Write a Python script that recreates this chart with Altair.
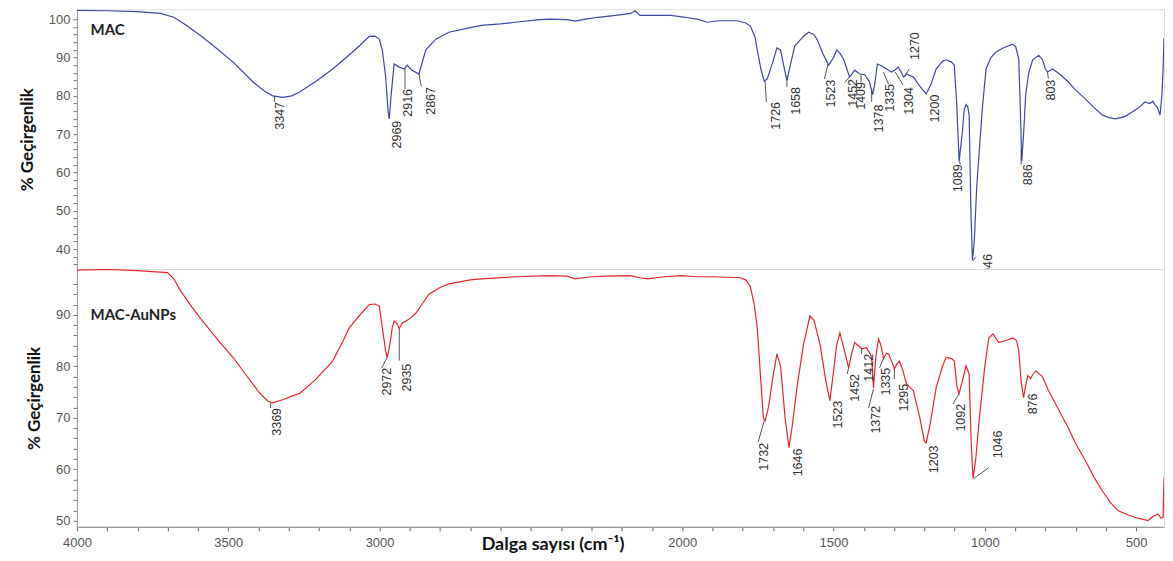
import altair as alt
import pandas as pd

# ---------------- MAC spectrum (top, blue) ----------------
mac_wn = [4000, 3900, 3800, 3724, 3680, 3640, 3593, 3540, 3484, 3418, 3380, 3353, 3320, 3290, 3264,
          3210, 3155, 3110, 3067, 3034, 3015, 3001, 2991, 2980, 2972, 2968, 2962, 2952, 2935, 2919,
          2909, 2893, 2870, 2860, 2847, 2814, 2771, 2700, 2663, 2600, 2551, 2480, 2442, 2380, 2354,
          2320, 2278, 2220, 2170, 2156, 2140, 2100, 2038, 1990, 1950, 1917, 1880, 1818, 1790, 1775,
          1760, 1752, 1740, 1729, 1719, 1700, 1687, 1675, 1665, 1654, 1640, 1628, 1600, 1582, 1565,
          1555, 1535, 1516, 1500, 1489, 1478, 1467, 1447, 1430, 1414, 1397, 1381, 1371, 1364, 1355,
          1345, 1335, 1309, 1296, 1286, 1275, 1269, 1259, 1236, 1215, 1194, 1178, 1161, 1140, 1128,
          1110, 1101, 1093, 1085, 1075, 1068, 1062, 1056, 1052, 1046, 1041, 1035, 1027, 1019, 1008,
          996, 980, 964, 940, 908, 898, 888, 884, 878, 872, 865, 855, 842, 822, 810, 800, 793, 776,
          750, 724, 700, 668, 640, 612, 590, 569, 540, 513, 490, 471, 455, 445, 438, 430, 421, 415,
          411, 408]
mac_t = [102.3, 102.2, 102.0, 101.5, 100.5, 98.5, 95.8, 92.5, 88.8, 83.6, 81.2, 80.0, 79.6, 80.0, 81.0,
         83.8, 87.0, 90.0, 93.0, 95.5, 95.6, 94.8, 92.0, 85.0, 76.0, 74.0, 80.0, 88.3, 87.5, 87.0,
         88.0, 86.7, 85.7, 88.5, 92.0, 94.8, 96.6, 97.8, 98.4, 98.8, 99.2, 99.8, 100.0, 99.9, 99.5,
         100.0, 100.5, 101.0, 101.5, 102.2, 101.0, 101.0, 101.0, 100.5, 100.0, 99.2, 99.6, 99.6, 99.0, 98.2,
         95.5, 92.0, 87.0, 83.8, 84.4, 89.0, 92.5, 92.0, 88.0, 84.0, 89.0, 93.0, 95.5, 96.6, 96.0,
         94.8, 91.0, 88.0, 90.0, 92.0, 91.0, 89.6, 84.9, 86.7, 85.7, 85.5, 83.6, 80.3, 82.9, 88.3,
         88.0, 87.5, 86.2, 86.8, 87.5, 86.0, 84.9, 85.7, 84.9, 82.5, 80.5, 83.0, 87.0, 89.0, 89.4,
         88.8, 88.0, 78.0, 62.9, 70.0, 76.5, 77.7, 77.0, 75.0, 50.0, 37.0, 42.0, 56.0, 65.0, 77.0,
         87.0, 90.0, 91.4, 92.5, 93.5, 92.8, 89.6, 80.0, 62.9, 70.0, 80.3, 86.0, 89.4, 90.6, 89.5, 87.0, 86.2, 87.0,
         85.5, 83.6, 81.5, 79.2, 77.0, 75.0, 74.3, 74.0, 74.5, 75.8, 77.0, 78.4, 78.0, 78.6, 77.7, 77.0, 75.0, 80.0,
         87.0, 95.0]

# ---------------- MAC-AuNPs spectrum (bottom, red) ----------------
au_wn = [4000, 3900, 3800, 3701, 3680, 3658, 3620, 3593, 3540, 3484, 3440, 3395, 3369, 3353, 3320,
         3290, 3264, 3210, 3155, 3120, 3100, 3060, 3034, 3015, 3001, 2991, 2980, 2975, 2968, 2958,
         2952, 2942, 2935, 2925, 2912, 2895, 2879, 2860, 2837, 2800, 2771, 2700, 2663, 2550, 2442,
         2380, 2354, 2300, 2250, 2170, 2140, 2114, 2060, 2005, 1950, 1900, 1808, 1790, 1775, 1762,
         1752, 1740, 1732, 1726, 1715, 1700, 1687, 1675, 1660, 1647, 1635, 1621, 1600, 1578, 1565,
         1545, 1525, 1512, 1500, 1490, 1479, 1468, 1450, 1440, 1430, 1418, 1407, 1391, 1380, 1374,
         1368, 1360, 1351, 1343, 1335, 1325, 1318, 1308, 1299, 1290, 1282, 1270, 1259, 1236, 1215,
         1200, 1194, 1180, 1161, 1140, 1128, 1110, 1101, 1092, 1085, 1075, 1062, 1052, 1045, 1039,
         1030, 1019, 1000, 987, 973, 954, 930, 908, 895, 888, 880, 872, 866, 858, 849, 840, 832,
         810, 789, 760, 724, 700, 668, 640, 612, 585, 559, 530, 503, 480, 461, 445, 428, 418, 411, 408]
au_t = [98.7, 98.8, 98.6, 98.2, 97.0, 94.7, 91.5, 89.4, 85.5, 81.7, 78.2, 74.7, 73.2, 72.9, 73.5,
        74.2, 74.7, 77.5, 81.0, 85.0, 87.5, 90.3, 92.0, 92.1, 91.7, 87.5, 83.0, 81.7, 83.5, 87.5,
        88.8, 88.3, 87.3, 88.4, 88.8, 89.5, 90.4, 92.0, 94.0, 95.3, 96.0, 96.8, 97.0, 97.4, 97.6,
        97.5, 97.0, 97.4, 97.5, 97.6, 97.2, 97.0, 97.4, 97.6, 97.4, 97.4, 97.2, 96.8, 95.5, 92.0,
        87.5, 77.0, 70.0, 69.4, 72.0, 78.0, 82.4, 80.0, 70.0, 64.2, 69.0, 75.8, 84.0, 89.8, 89.0,
        84.4, 77.0, 73.3, 79.0, 84.0, 86.5, 84.0, 79.7, 82.5, 84.6, 84.0, 83.4, 83.6, 82.5, 81.7,
        75.8, 82.0, 85.3, 84.0, 81.5, 82.5, 82.4, 81.0, 79.5, 80.5, 81.0, 79.0, 76.6, 75.2, 70.0,
        65.5, 65.1, 69.0, 75.8, 80.0, 81.7, 81.5, 81.0, 76.0, 74.7, 77.0, 80.1, 78.5, 65.0, 58.2,
        62.0, 69.4, 80.0, 85.5, 86.3, 84.6, 85.0, 85.5, 85.0, 83.0, 77.0, 73.9, 76.0, 78.2, 77.6, 78.5, 79.1,
        78.0, 75.2, 72.0, 68.0, 65.0, 61.7, 58.5, 55.8, 53.5, 51.9, 51.2, 50.6, 50.3, 50.0, 50.8, 51.3, 50.5, 50.6, 58.4]

# ---------------- peak annotations ----------------
mac_labels = ["3347", "2969", "2916", "2867", "1726", "1658", "1523", "1452", "1409", "1378",
              "1335", "1304", "1270", "1200", "1089", "1046", "886", "803"]
mac_peak_wn = [3347, 2968, 2916, 2870, 1726, 1654, 1518, 1447, 1409, 1374, 1335, 1296, 1266, 1194, 1085, 1039, 880, 793]
mac_peak_t = [80.0, 74.0, 87.2, 85.7, 83.8, 84.0, 88.3, 84.9, 85.4, 82.0, 86.2, 86.2, 84.9, 80.5, 62.9, 37.0, 66.0, 86.2]
mac_lead_wn = [3347, 2968, 2916, 2862, 1722, 1654, 1530, 1463, 1409, 1374, 1318, 1270, 1250, 1194, 1080, 1030, 880, 790]
mac_lead_t = [78.4, 74.0, 81.8, 82.5, 78.4, 82.3, 84.4, 83.5, 83.6, 78.4, 83.0, 82.8, 87.0, 80.5, 62.1, 38.0, 62.1, 84.5]
mac_lab_wn = [3330, 2942, 2905, 2830, 1690, 1624, 1509, 1434, 1409, 1351, 1312, 1251, 1230, 1164, 1090, 990, 858, 780]
mac_lab_t = [78.4, 73.5, 81.8, 82.3, 78.4, 82.3, 84.2, 84.4, 83.6, 77.7, 83.1, 82.3, 96.6, 80.3, 62.1, 38.7, 62.1, 84.2]

au_labels = ["3369", "2972", "2935", "1732", "1646", "1523", "1452", "1412", "1372", "1335",
             "1295", "1203", "1092", "1046", "876"]
au_peak_wn = [3360, 2975, 2935, 1729, 1647, 1512, 1450, 1407, 1368, 1335, 1299, 1194, 1085, 1036, 872]
au_peak_t = [72.9, 81.7, 87.3, 69.4, 64.2, 73.3, 79.7, 83.4, 75.6, 81.5, 79.5, 65.1, 74.7, 58.2, 73.9]
au_lead_wn = [3360, 2993, 2935, 1749, 1647, 1512, 1455, 1407, 1384, 1348, 1299, 1194, 1105, 987, 872]
au_lead_t = [71.9, 79.7, 81.1, 65.3, 64.2, 73.3, 78.5, 82.4, 71.9, 79.7, 77.5, 65.1, 72.7, 60.3, 73.9]
au_lab_wn = [3338, 2975, 2909, 1730, 1617, 1486, 1430, 1384, 1361, 1325, 1266, 1167, 1079, 957, 842]
au_lab_t = [71.9, 79.7, 80.5, 65.1, 64.0, 73.3, 78.5, 82.4, 72.3, 79.7, 76.6, 64.6, 72.7, 67.5, 74.7]

x_ticks = list(range(500, 4001, 100))
x_tick_labels = [4000, 3500, 3000, 2000, 1500, 1000, 500]
top_y_ticks = list(range(36, 101, 2))
bottom_y_ticks = list(range(50, 97, 2))

W = 1088
LABEL_FONT = "Liberation Sans Narrow, Liberation Sans, Arial"
BOLD_FONT = "Lato"

xs = alt.Scale(domain=[408, 4000], reverse=True, nice=False, zero=False)


def y_axis(values):
    return alt.Axis(
        values=values,
        labelExpr="datum.value % 10 === 0 ? datum.value : ''",
        labelOverlap=False,
        title="% Geçirgenlik",
        titleFont=BOLD_FONT, titleFontSize=17, titleFontWeight="bold", titleColor="#111",
        titlePadding=12,
        labelFont=LABEL_FONT, labelFontSize=13, labelColor="#555", labelPadding=3,
        tickSize=4, tickColor="#777", tickWidth=1, domainColor="#999", grid=False,
    )


def panel(wn, t, color, ydom, yvals, labels, pwn, pt, lwn, lt, tlwn, tlt, name, name_t, height, xaxis):
    line_df = pd.DataFrame({"wn": wn, "t": t})
    ann_df = pd.DataFrame({"label": labels, "pwn": pwn, "pt": pt, "lwn": lwn, "lt": lt,
                           "twn": tlwn, "tt": tlt})
    ys = alt.Scale(domain=ydom, nice=False, zero=False)
    yax = y_axis(yvals)
    line = alt.Chart(line_df).mark_line(color=color, strokeWidth=1.2, clip=True).encode(
        x=alt.X("wn:Q", scale=xs, axis=xaxis),
        y=alt.Y("t:Q", scale=ys, axis=yax),
    )
    leaders = alt.Chart(ann_df).mark_rule(color="#444", strokeWidth=0.9, clip=True).encode(
        x=alt.X("pwn:Q", scale=xs, axis=xaxis), y=alt.Y("pt:Q", scale=ys, axis=yax),
        x2="lwn:Q", y2="lt:Q",
    )
    texts = alt.Chart(ann_df).mark_text(
        angle=270, align="right", baseline="middle", fontSize=12.5, color="#333",
        font="Liberation Sans, Arial", clip=True,
    ).encode(
        x=alt.X("twn:Q", scale=xs, axis=xaxis), y=alt.Y("tt:Q", scale=ys, axis=yax), text="label:N",
    )
    name_df = pd.DataFrame({"wn": [3955], "t": [name_t], "name": [name]})
    name_txt = alt.Chart(name_df).mark_text(
        align="left", baseline="middle", fontSize=15, fontWeight="bold", font=BOLD_FONT, color="#222",
    ).encode(x=alt.X("wn:Q", scale=xs, axis=xaxis), y=alt.Y("t:Q", scale=ys, axis=yax), text="name:N")
    return alt.layer(line, leaders, texts, name_txt).properties(width=W, height=height)


label_test = " || ".join(f"datum.value === {v}" for v in x_tick_labels)
bottom_xaxis = alt.Axis(
    values=x_ticks,
    labelExpr=f"({label_test}) ? datum.value : ''",
    labelOverlap=False,
    labelFont=LABEL_FONT, labelFontSize=13, labelColor="#555", labelPadding=6, labelFlush=False,
    tickSize=4, tickColor="#666", tickWidth=1, domainColor="#888", grid=False,
    title="Dalga sayısı (cm⁻¹)",
    titleFont=BOLD_FONT, titleFontSize=18, titleFontWeight="bold", titleColor="#111",
    titleX=476, titleY=18, titleBaseline="middle", titleAlign="center", titleAnchor="start",
)

top = panel(mac_wn, mac_t, "#3d48a0", [34.8, 102.6], top_y_ticks,
            mac_labels, mac_peak_wn, mac_peak_t, mac_lead_wn, mac_lead_t, mac_lab_wn, mac_lab_t,
            "MAC", 97.2, 260, None)
bottom = panel(au_wn, au_t, "#e0262e", [48.8, 98.9], bottom_y_ticks,
               au_labels, au_peak_wn, au_peak_t, au_lead_wn, au_lead_t, au_lab_wn, au_lab_t,
               "MAC-AuNPs", 90.0, 258, bottom_xaxis)

chart = alt.vconcat(top, bottom, spacing=0, bounds="flush").resolve_scale(y="independent").properties(
    padding={"left": 9, "top": 0, "right": 0, "bottom": 0}
).configure_view(stroke="#d4d4d4", strokeWidth=1).configure(background="white")

chart.save("out.html", embed_options={"renderer": "svg", "actions": False})
